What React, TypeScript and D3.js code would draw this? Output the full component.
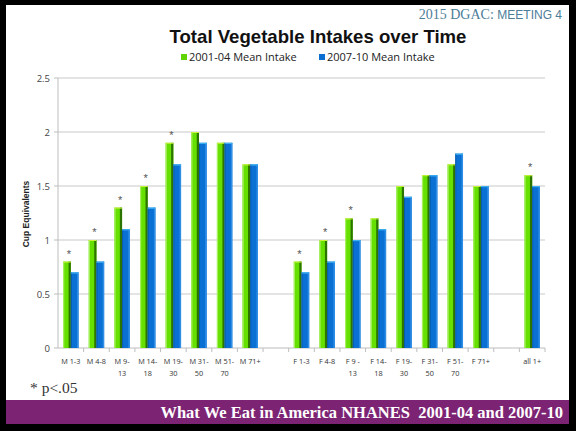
import React from "react";
import * as d3 from "d3";

const categories: string[][] = [
  ["M 1-3"], ["M 4-8"], ["M 9-", "13"], ["M 14-", "18"], ["M 19-", "30"], ["M 31-", "50"], ["M 51-", "70"], ["M 71+"],
  [""],
  ["F 1-3"], ["F 4-8"], ["F 9 -", "13"], ["F 14-", "18"], ["F 19-", "30"], ["F 31-", "50"], ["F 51-", "70"], ["F 71+"],
  [""],
  ["all 1+"],
];
const intake0104: (number | null)[] = [0.8, 1.0, 1.3, 1.5, 1.9, 2.0, 1.9, 1.7, null, 0.8, 1.0, 1.2, 1.2, 1.5, 1.6, 1.7, 1.5, null, 1.6];
const intake0710: (number | null)[] = [0.7, 0.8, 1.1, 1.3, 1.7, 1.9, 1.9, 1.7, null, 0.7, 0.8, 1.0, 1.1, 1.4, 1.6, 1.8, 1.5, null, 1.5];
const significant: boolean[] = [true, true, true, true, true, false, false, false, false, true, true, true, false, false, false, false, false, false, true];
const seriesNames = ["2001-04 Mean Intake", "2007-10 Mean Intake"];
const yTicks = [0, 0.5, 1, 1.5, 2, 2.5];

const W = 576, H = 431;
const plotL = 58, plotR = 545, plotT = 78, plotB = 348;
const sans = "'Liberation Sans', Arial, sans-serif";
const body = "'Open Sans', 'Liberation Sans', sans-serif";
const serif = "'Liberation Serif', 'DejaVu Serif', serif";

export default function App() {
  const idx = categories.map((_, i) => String(i));
  const x = d3.scaleBand<string>().domain(idx).range([plotL, plotR]).padding(0);
  const sub = d3.scaleBand<string>().domain(["a", "b"]).range([0, x.bandwidth()]).paddingOuter(0.66).paddingInner(0);
  const y = d3.scaleLinear().domain([0, 2.5]).range([plotB, plotT]);
  const bw = sub.bandwidth();

  return (
    <svg width={W} height={H} style={{ position: "fixed", left: 0, top: 0, display: "block" }}>
      <rect x={0} y={0} width={W} height={H} fill="#000" />
      <rect x={6} y={5} width={563} height={395} fill="#fff" />
      <rect x={6} y={400} width={563} height={24} fill="#7c2473" />
      <text x={563} y={418} textAnchor="end" fill="#fff" fontFamily={serif} fontWeight="bold" fontSize={16.5} style={{ whiteSpace: "pre" }}>
        {"What We Eat in America NHANES  2001-04 and 2007-10"}
      </text>
      <text x={562} y={19} textAnchor="end" fill="#4d7d99" fontSize={14}>
        <tspan fontFamily={serif}>2015 DGAC: </tspan>
        <tspan fontFamily={sans} fontSize={12}>MEETING 4</tspan>
      </text>
      <text x={318} y={43} textAnchor="middle" fontFamily={sans} fontWeight="bold" fontSize={18.6} fill="#111">
        Total Vegetable Intakes over Time
      </text>
      {/* legend */}
      <rect x={181} y={54} width={6} height={6} fill="#5fd400" />
      <text x={189} y={61} fontFamily={body} fontSize={11} fill="#222">{seriesNames[0]}</text>
      <rect x={319} y={54} width={6} height={6} fill="#0a6fd0" />
      <text x={327} y={61} fontFamily={body} fontSize={11} fill="#222">{seriesNames[1]}</text>

      {/* grid */}
      {yTicks.map((t) => (
        <g key={t}>
          {t > 0 && <line x1={plotL} x2={plotR} y1={y(t)} y2={y(t)} stroke="#c9c9c9" strokeWidth={1} />}
          <line x1={plotL - 4} x2={plotL} y1={y(t)} y2={y(t)} stroke="#bdbdbd" />
          <text x={plotL - 8} y={y(t) + 3.5} textAnchor="end" fontFamily={body} fontSize={9.5} fill="#444">{t}</text>
        </g>
      ))}
      <line x1={plotL} x2={plotL} y1={plotT} y2={plotB} stroke="#bdbdbd" />
      <line x1={plotL} x2={plotR} y1={plotB} y2={plotB} stroke="#bdbdbd" />
      {idx.map((k) => (
        <line key={"t" + k} x1={x(k)! + x.bandwidth()} x2={x(k)! + x.bandwidth()} y1={plotB} y2={plotB + 4} stroke="#bdbdbd" />
      ))}
      <text transform={`translate(29,${(plotT + plotB) / 2 + 1}) rotate(-90)`} textAnchor="middle" fontFamily={sans} fontWeight="bold" fontSize={8.5} fill="#222">
        Cup Equivalents
      </text>

      {/* bars */}
      {idx.map((k, i) => {
        const x0 = x(k)!;
        const a = intake0104[i], b = intake0710[i];
        const out: React.ReactNode[] = [];
        if (a != null) {
          const bx = x0 + sub("a")!;
          out.push(
            <g key={"a" + k}>
              <rect x={bx} y={y(a)} width={bw} height={plotB - y(a)} fill="#66e000" />
              <rect x={bx} y={y(a)} width={1.2} height={plotB - y(a)} fill="#a6f060" />
              <rect x={bx + bw - 2.2} y={y(a)} width={2.2} height={plotB - y(a)} fill="#2c7400" />
              <rect x={bx} y={y(a)} width={bw} height={1} fill="#c8f23a" />
            </g>
          );
        }
        if (b != null) {
          const bx = x0 + sub("b")!;
          out.push(
            <g key={"b" + k}>
              <rect x={bx} y={y(b)} width={bw} height={plotB - y(b)} fill="#0b70d4" />
              <rect x={bx} y={y(b)} width={1} height={plotB - y(b)} fill="#0a5aa8" />
              <rect x={bx + bw - 1.5} y={y(b)} width={1.5} height={plotB - y(b)} fill="#2e8ee6" />
              <rect x={bx} y={y(b)} width={bw} height={1.2} fill="#3ab0f0" />
            </g>
          );
        }
        if (significant[i]) {
          const top = Math.max(a ?? 0, b ?? 0);
          out.push(
            <text key={"s" + k} x={x0 + x.bandwidth() / 2 - 2} y={y(top) - 4} textAnchor="middle" fontFamily={sans} fontSize={11} fill="#555">*</text>
          );
        }
        out.push(
          <text key={"l" + k} textAnchor="middle" fontFamily={body} fontSize={7.3} fill="#333">
            {categories[i].map((s, j) => (
              <tspan key={j} x={x0 + x.bandwidth() / 2} y={plotB + 16 + j * 12}>{s}</tspan>
            ))}
          </text>
        );
        return <g key={k}>{out}</g>;
      })}

      <text x={30} y={393} fontFamily={serif} fontSize={15.5} fill="#333">* p&lt;.05</text>
    </svg>
  );
}
